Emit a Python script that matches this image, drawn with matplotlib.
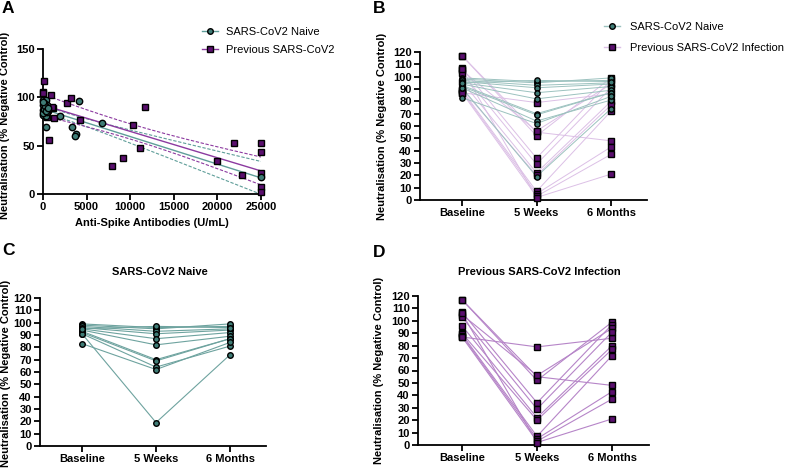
import numpy as np
import matplotlib
matplotlib.use("Agg")
import matplotlib.pyplot as plt
from matplotlib.lines import Line2D

plt.rcParams['font.family'] = ['Liberation Sans', 'DejaVu Sans']

# ---- data -------------------------------------------------------------
# Panel A: anti-spike antibodies (U/mL) vs neutralisation (%)
naive_ab = [0, 330, 0, 450, 0, 570, 0, 330, 1990, 340, 3290, 3750, 3670,
            4160, 6800, 25000, 150, 250, 0, 400, 100, 200, 500, 50, 300, 600]
naive_neut = [97, 97, 92, 92, 87, 86, 82, 81, 81, 69, 69, 62, 60,
              96.5, 73.7, 18, 94, 89, 84, 90, 88, 91, 85, 95, 86, 89]
prev_ab = [100, 0, 50, 880, 2700, 3210, 1180, 1300, 720, 4280, 7870, 9210,
           10360, 11160, 11700, 21900, 25000, 25000, 19990, 22790, 25000,
           25000, 25000, 1000, 460, 200]
prev_neut = [117, 106, 105, 102, 94.4, 99, 88.6, 78.3, 55.8, 76.2, 29, 36.9,
             71.4, 47.9, 89.7, 52.4, 52.4, 43, 34.1, 19.3, 21.4,
             6.9, 2.4, 90.3, 79.3, 96]

# Panels B-D: paired neutralisation at three time points
timepoints = ["Baseline", "5 Weeks", "6 Months"]
naive_base = [99, 98, 97, 96, 95, 94, 93, 92, 91, 91, 83, 95]
naive_wk5 = [96, 95, 93, 91, 87, 82, 70, 69, 64, 19, 62, 97]
naive_m6 = [97, 99, 95, 94, 92, 89, 87, 87, 81, 74, 84, 96]
prev_base = [87, 117, 117, 107, 105, 103, 96, 90, 89, 88, 87, 106]
prev_wk5 = [79, 55, 52, 34, 56, 29, 22, 20, 7, 5, 3, 2]
prev_m6 = [86, 48, 99, 97, 94, 91, 80, 77, 72, 43, 37, 21]

# ---- styling ----------------------------------------------------------
TEAL = "#3f7c76"
PURPLE = "#5a0f6e"
TEAL_LINE = "#6ea39f"
PURPLE_LINE = "#b685c8"
TEAL_LIGHT = "#9cc2bf"
PURPLE_LIGHT = "#dcc0e6"
FIT_TEAL = "#5f9e99"
FIT_PURPLE = "#8c3aa0"
YLABEL = "Neutralisation (% Negative Control)"

W, H = 795, 472
fig = plt.figure(figsize=(W / 100, H / 100), dpi=100)


def px_axes(left, top, right, bottom):
    return fig.add_axes([left / W, 1 - bottom / H, (right - left) / W, (bottom - top) / H])


def style_axes(ax):
    for side in ("top", "right"):
        ax.spines[side].set_visible(False)
    for side in ("left", "bottom"):
        ax.spines[side].set_linewidth(1.3)
    ax.tick_params(direction="out", length=4, width=1.3, labelsize=8, pad=2)
    for lab in ax.get_xticklabels() + ax.get_yticklabels():
        lab.set_fontweight("bold")


def fit_with_band(x, y, xs):
    x = np.asarray(x, float)
    y = np.asarray(y, float)
    n = x.size
    slope, icpt = np.polyfit(x, y, 1)
    resid = y - (icpt + slope * x)
    s = np.sqrt(np.sum(resid ** 2) / (n - 2))
    xm = x.mean()
    se = s * np.sqrt(1.0 / n + (xs - xm) ** 2 / np.sum((x - xm) ** 2))
    t = 1.96 + 2.4 / (n - 2)  # approx. 95% t quantile
    yfit = icpt + slope * xs
    return yfit, yfit - t * se, yfit + t * se


def paired(ax, series, line_color, marker, face, ms, lw, z):
    xs = np.arange(len(timepoints))
    vals = np.column_stack(series)
    for row in vals:
        ax.plot(xs, row, color=line_color, lw=lw, zorder=z)
    for i in range(len(timepoints)):
        ax.plot(np.full(vals.shape[0], xs[i]), vals[:, i], linestyle="none",
                marker=marker, ms=ms, mfc=face, mec="black", mew=1.0,
                zorder=z + 2, clip_on=False)


def cat_axes(ax, xlim):
    ax.set_xlim(*xlim)
    ax.set_ylim(0, 120)
    ax.set_yticks(np.arange(0, 121, 10))
    ax.set_xticks(range(len(timepoints)))
    ax.set_xticklabels(timepoints)
    ax.tick_params(axis="x", pad=6)
    style_axes(ax)


# ---- Panel A ----------------------------------------------------------
axA = px_axes(43, 49, 261, 194)
xs = np.linspace(0, 25000, 200)
for xd, yd, col in ((naive_ab, naive_neut, FIT_TEAL), (prev_ab, prev_neut, FIT_PURPLE)):
    yfit, lo, hi = fit_with_band(xd, yd, xs)
    axA.plot(xs, yfit, color=col, lw=1.0, zorder=2)
    axA.plot(xs, lo, color=col, lw=0.8, ls=(0, (3, 1.5)), zorder=2)
    axA.plot(xs, hi, color=col, lw=0.8, ls=(0, (3, 1.5)), zorder=2)
axA.plot(prev_ab, prev_neut, ls="none", marker="s", ms=5, mfc=PURPLE, mec="black",
         mew=1.0, zorder=4, clip_on=False)
axA.plot(naive_ab, naive_neut, ls="none", marker="o", ms=4.6, mfc=TEAL, mec="black",
         mew=1.0, zorder=5, clip_on=False)
axA.set_xlim(0, 25000)
axA.set_ylim(0, 150)
axA.set_xticks([0, 5000, 10000, 15000, 20000, 25000])
axA.set_yticks([0, 50, 100, 150])
style_axes(axA)
axA.set_xlabel("Anti-Spike Antibodies (U/mL)", fontsize=8, fontweight="bold", labelpad=4)
axA.set_ylabel(YLABEL, fontsize=8, fontweight="bold")
axA.yaxis.set_label_coords(-0.15, 0.47)

hA = [Line2D([0], [0], color=FIT_TEAL, lw=1, marker="o", ms=4, mfc=TEAL, mec="black"),
      Line2D([0], [0], color=FIT_PURPLE, lw=1, marker="s", ms=4, mfc=PURPLE, mec="black")]
fig.legend(hA, ["SARS-CoV2 Naive", "Previous SARS-CoV2"], loc="upper left",
           bbox_to_anchor=(202 / W, 1 - 27 / H), frameon=False, fontsize=8,
           handlelength=1.4, handletextpad=0.8, labelspacing=0.75,
           borderpad=0, borderaxespad=0)

# ---- Panel B ----------------------------------------------------------
axB = px_axes(420, 52, 647, 200)
paired(axB, (prev_base, prev_wk5, prev_m6), PURPLE_LIGHT, "s", PURPLE, 4.2, 0.7, 1)
paired(axB, (naive_base, naive_wk5, naive_m6), TEAL_LIGHT, "o", TEAL, 3.8, 0.7, 2)
cat_axes(axB, (-0.564, 2.483))
axB.set_ylabel(YLABEL, fontsize=8, fontweight="bold")
axB.yaxis.set_label_coords(-0.145, 0.5)

hB = [Line2D([0], [0], color=TEAL_LIGHT, lw=1, marker="o", ms=4, mfc=TEAL, mec="black"),
      Line2D([0], [0], color=PURPLE_LIGHT, lw=1, marker="s", ms=4, mfc=PURPLE, mec="black")]
fig.legend(hB, ["SARS-CoV2 Naive", "Previous SARS-CoV2 Infection"], loc="upper left",
           bbox_to_anchor=(604 / W, 1 - 22 / H), frameon=False, fontsize=8,
           handlelength=1.4, handletextpad=0.9, labelspacing=0.95,
           borderpad=0, borderaxespad=0)

# ---- Panel C ----------------------------------------------------------
axC = px_axes(40, 298, 266, 446)
paired(axC, (naive_base, naive_wk5, naive_m6), TEAL_LINE, "o", TEAL, 4.0, 0.8, 1)
cat_axes(axC, (-0.568, 2.486))
axC.set_ylabel(YLABEL, fontsize=8, fontweight="bold")
axC.yaxis.set_label_coords(-0.13, 0.49)
fig.text(160 / W, 1 - 272 / H, "SARS-CoV2 Naive", fontsize=8, fontweight="bold",
         ha="center", va="center")

# ---- Panel D ----------------------------------------------------------
axD = px_axes(418, 296, 649, 445)
paired(axD, (prev_base, prev_wk5, prev_m6), PURPLE_LINE, "s", PURPLE, 4.5, 0.8, 1)
cat_axes(axD, (-0.587, 2.493))
axD.set_ylabel(YLABEL, fontsize=8, fontweight="bold")
axD.yaxis.set_label_coords(-0.147, 0.5)
fig.text(539 / W, 1 - 272 / H, "Previous SARS-CoV2 Infection", fontsize=8,
         fontweight="bold", ha="center", va="center")

# ---- panel letters ----------------------------------------------------
for letter, (px, py) in {"A": (2, 1), "B": (373, 1), "C": (2, 243), "D": (373, 245)}.items():
    fig.text(px / W, 1 - py / H, letter, fontsize=12.5, fontweight="bold", ha="left", va="top")

fig.savefig("out.png", dpi=100)
